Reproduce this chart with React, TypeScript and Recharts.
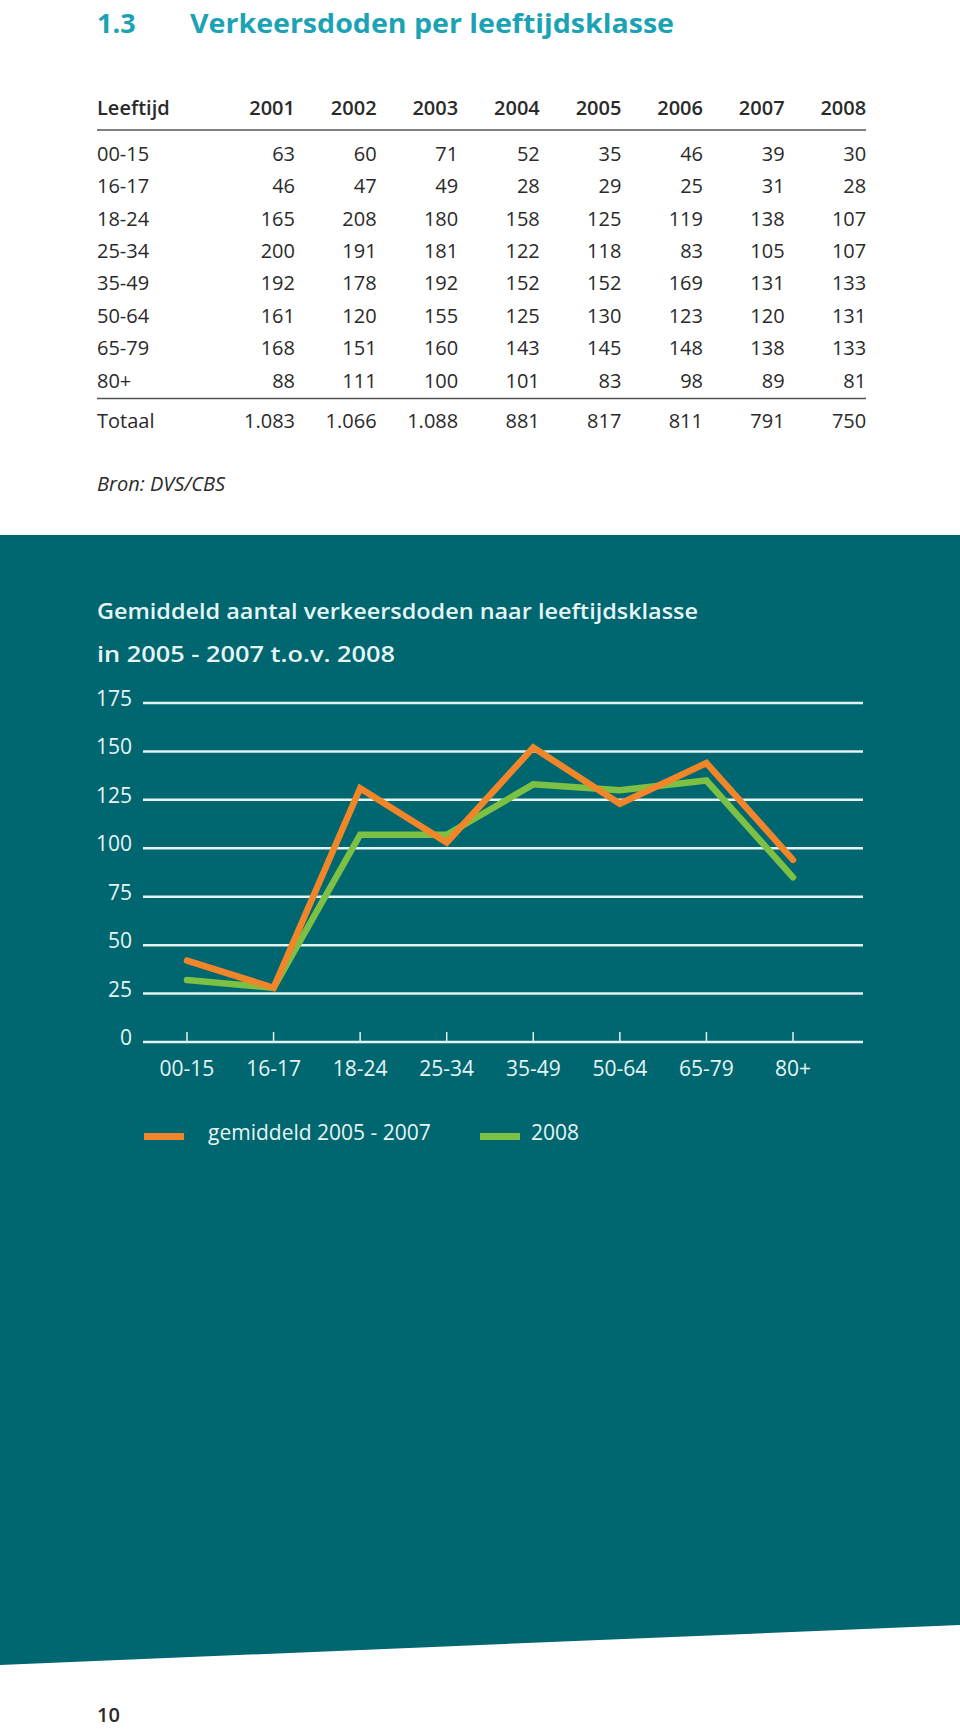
import React from 'react';
import { LineChart, Line, XAxis, YAxis, CartesianGrid } from 'recharts';

// table: verkeersdoden per leeftijdsklasse
const years = ['2001', '2002', '2003', '2004', '2005', '2006', '2007', '2008'];
const ageGroups = ['00-15', '16-17', '18-24', '25-34', '35-49', '50-64', '65-79', '80+'];
const row0015 = [63, 60, 71, 52, 35, 46, 39, 30];
const row1617 = [46, 47, 49, 28, 29, 25, 31, 28];
const row1824 = [165, 208, 180, 158, 125, 119, 138, 107];
const row2534 = [200, 191, 181, 122, 118, 83, 105, 107];
const row3549 = [192, 178, 192, 152, 152, 169, 131, 133];
const row5064 = [161, 120, 155, 125, 130, 123, 120, 131];
const row6579 = [168, 151, 160, 143, 145, 148, 138, 133];
const row80 = [88, 111, 100, 101, 83, 98, 89, 81];
const totals = [1083, 1066, 1088, 881, 817, 811, 791, 750];
const tableRows = [row0015, row1617, row1824, row2534, row3549, row5064, row6579, row80];

// chart: values
const avg2005to2007 = [42, 28, 131, 103, 152, 123, 144, 94];
const deaths2008 = [32, 28, 107, 107, 133, 130, 135, 85];
const yTicks = [0, 25, 50, 75, 100, 125, 150, 175];
const seriesAvg = 'gemiddeld 2005 - 2007';
const series2008 = '2008';

const chartData = ageGroups.map((age, i) => ({
  age,
  avg: avg2005to2007[i],
  y2008: deaths2008[i],
}));

const TEAL = '#00666f';
const TITLE = '#1ba3b5';
const INK = '#2a2a2a';
const GRID = '#e2f3f2';
const LABEL = '#e6f5f5';
const ORANGE = '#f0852a';
const GREEN = '#7cc143';
const FONT = '"Open Sans", "Noto Sans", sans-serif';

const fmt = (n: number) =>
  n >= 1000 ? `${Math.floor(n / 1000)}.${String(n % 1000).padStart(3, '0')}` : String(n);

const colRight = (i: number) => 295 + i * 81.6;
const rowBase = (i: number) => 160.7 + i * 32.4;

const XTick = (props: any) => {
  const { x, y, payload } = props;
  return (
    <g>
      <line x1={x} x2={x} y1={y - 10} y2={y} stroke={GRID} strokeWidth={1.5} />
      <text x={x} y={y + 34} textAnchor="middle" fill={LABEL} fontFamily={FONT} fontSize={21}>
        {payload.value}
      </text>
    </g>
  );
};

const YTick = (props: any) => {
  const { x, y, payload } = props;
  return (
    <text x={x} y={y + 3} textAnchor="end" fill={LABEL} fontFamily={FONT} fontSize={21}>
      {payload.value}
    </text>
  );
};

export default function App() {
  return (
    <div style={{ position: 'absolute', left: 0, top: 0, width: 960, height: 1729, background: '#fff', overflow: 'hidden' }}>
      <svg width={960} height={1729} style={{ position: 'absolute', left: 0, top: 0 }}>
        <polygon points="0,535 960,535 960,1625 0,1665" fill={TEAL} />

        <text x={97} y={33} fontFamily={FONT} fontWeight={700} fontSize={27} fill={TITLE}>1.3</text>
        <text x={190} y={33} fontFamily={FONT} fontWeight={700} fontSize={27} fill={TITLE}
          textLength={484} lengthAdjust="spacingAndGlyphs">
          Verkeersdoden per leeftijdsklasse
        </text>

        <g fontFamily={FONT} fontSize={20} fill={INK}>
          <text x={97} y={115} fontWeight={600}>Leeftijd</text>
          {years.map((yr, i) => (
            <text key={yr} x={colRight(i)} y={115} textAnchor="end" fontWeight={600}>{yr}</text>
          ))}
          <line x1={97} x2={866} y1={130} y2={130} stroke="#555" strokeWidth={1.5} />
          {tableRows.map((row, r) => (
            <g key={ageGroups[r]}>
              <text x={97} y={rowBase(r)}>{ageGroups[r]}</text>
              {row.map((v, i) => (
                <text key={i} x={colRight(i)} y={rowBase(r)} textAnchor="end">{v}</text>
              ))}
            </g>
          ))}
          <line x1={97} x2={866} y1={398.5} y2={398.5} stroke="#555" strokeWidth={1.5} />
          <text x={97} y={427.7}>Totaal</text>
          {totals.map((v, i) => (
            <text key={i} x={colRight(i)} y={427.7} textAnchor="end">{fmt(v)}</text>
          ))}
          <text x={97} y={491} fontStyle="italic">Bron: DVS/CBS</text>
        </g>

        <g fontFamily={FONT} fill={LABEL}>
          <text x={97} y={619} fontSize={22} fontWeight={600} textLength={601} lengthAdjust="spacingAndGlyphs">
            Gemiddeld aantal verkeersdoden naar leeftijdsklasse
          </text>
          <text x={97} y={662} fontSize={22} fontWeight={600} textLength={298} lengthAdjust="spacingAndGlyphs">
            in 2005 - 2007 t.o.v. 2008
          </text>

          <rect x={144} y={1133} width={40} height={7} fill={ORANGE} />
          <text x={208} y={1140} fontSize={21}>{seriesAvg}</text>
          <rect x={480} y={1133} width={40} height={7} fill={GREEN} />
          <text x={531} y={1140} fontSize={21}>{series2008}</text>
        </g>

        <text x={97} y={1722} fontFamily={FONT} fontSize={20} fontWeight={600} fill={INK}>10</text>
      </svg>

      <div style={{ position: 'absolute', left: 0, top: 683 }}>
        <LineChart width={960} height={410} data={chartData} margin={{ top: 20, right: 97, bottom: 0, left: 0 }}>
          <CartesianGrid vertical={false} stroke={GRID} strokeWidth={2.5} />
          <XAxis
            dataKey="age"
            scale="point"
            padding={{ left: 44, right: 70 }}
            height={51}
            axisLine={false}
            tickLine={false}
            tickSize={0}
            tickMargin={0}
            interval={0}
            tick={<XTick />}
          />
          <YAxis
            domain={[0, 175]}
            ticks={yTicks}
            width={143}
            axisLine={false}
            tickLine={false}
            tickSize={0}
            tickMargin={11}
            interval={0}
            tick={<YTick />}
          />
          <Line
            type="linear"
            dataKey="y2008"
            name={series2008}
            stroke={GREEN}
            strokeWidth={6.5}
            strokeLinecap="round"
            dot={false}
            isAnimationActive={false}
          />
          <Line
            type="linear"
            dataKey="avg"
            name={seriesAvg}
            stroke={ORANGE}
            strokeWidth={6.5}
            strokeLinecap="round"
            dot={false}
            isAnimationActive={false}
          />
        </LineChart>
      </div>
    </div>
  );
}
